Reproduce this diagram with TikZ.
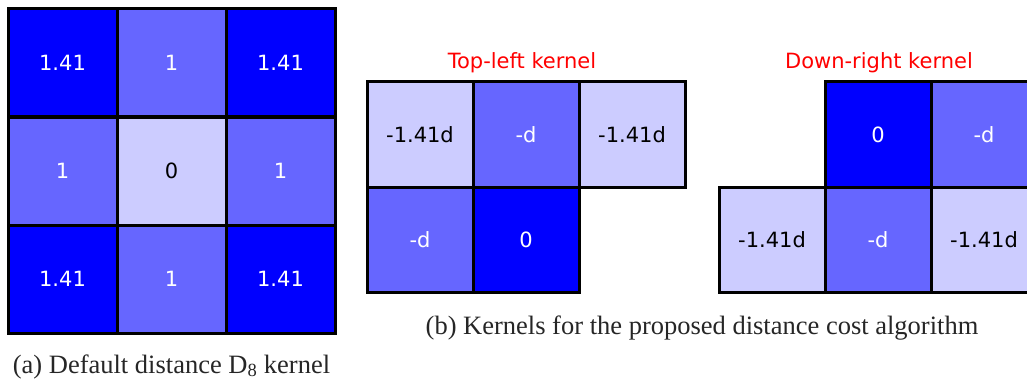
\documentclass[tikz,border=0pt]{standalone}
\usepackage{fontspec}
\setmainfont{Liberation Serif}
\newfontfamily\cellfont{DejaVu Sans}
\begin{document}
\begin{tikzpicture}[x=1pt,y=-1pt,
  cell/.style={draw=black,line width=3pt,minimum width=#1,inner sep=0pt,font=\cellfont\fontsize{21}{25}\selectfont},
  dark/.style={fill=blue,text=white},
  mid/.style={fill=blue!60,text=white},
  light/.style={fill=blue!20,text=black},
  title/.style={font=\cellfont\fontsize{21}{25}\selectfont,text=red,anchor=base},
  capt/.style={font=\fontsize{26.5}{30}\selectfont,text=black!85,anchor=base}]
\useasboundingbox (0,0) rectangle (1027,383);
% (a) left grid: cells 109 x 108
\begin{scope}[every node/.append style={minimum width=109pt,minimum height=108pt}]
\node[cell=109pt,dark]  (a11) at (62.5,62.5) {1.41};
\node[cell=109pt,mid]   (a12) at (171.5,62.5) {1};
\node[cell=109pt,dark]  (a13) at (280.5,62.5) {1.41};
\node[cell=109pt,mid]   (a21) at (62.5,171) {1};
\node[cell=109pt,light] (a22) at (171.5,171) {0};
\node[cell=109pt,mid]   (a23) at (280.5,171) {1};
\node[cell=109pt,dark]  (a31) at (62.5,279) {1.41};
\node[cell=109pt,mid]   (a32) at (171.5,279) {1};
\node[cell=109pt,dark]  (a33) at (280.5,279) {1.41};
\end{scope}
\node[capt] (capa) at (171.5,373) {(a) Default distance D\textsubscript{8} kernel};
% (b) top-left kernel: cells 106 x 105.5
\begin{scope}[every node/.append style={minimum width=106pt,minimum height=105.5pt}]
\node[cell=106pt,light] (t11) at (420,134.5) {-1.41d};
\node[cell=106pt,mid]   (t12) at (526,134.5) {-d};
\node[cell=106pt,light] (t13) at (632,134.5) {-1.41d};
\node[cell=106pt,mid]   (t21) at (420,240) {-d};
\node[cell=106pt,dark]  (t22) at (526,240) {0};
% down-right kernel
\node[cell=106pt,dark]  (d12) at (878,134.5) {0};
\node[cell=106pt,mid]   (d13) at (984,134.5) {-d};
\node[cell=106pt,light] (d21) at (772,240) {-1.41d};
\node[cell=106pt,mid]   (d22) at (878,240) {-d};
\node[cell=106pt,light] (d23) at (984,240) {-1.41d};
\end{scope}
\node[title] (tl) at (522,68) {Top-left kernel};
\node[title] (dr) at (879,68) {Down-right kernel};
\node[capt] (capb) at (702,334) {(b) Kernels for the proposed distance cost algorithm};
\end{tikzpicture}
\end{document}
